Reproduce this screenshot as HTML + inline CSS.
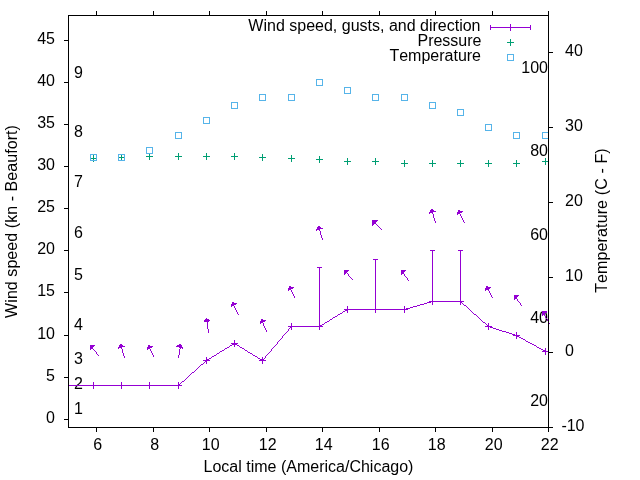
<!DOCTYPE html>
<html><head><meta charset="utf-8"><title>Wind, pressure and temperature</title><style>
html,body{margin:0;padding:0;background:#fff;}
svg{display:block;will-change:transform;}
path{shape-rendering:crispEdges;}
text{font-family:"Liberation Sans", Arial, sans-serif;font-size:16px;fill:#000;font-kerning:none;}
</style></head><body>
<svg width="640" height="480" viewBox="0 0 640 480">
<rect width="640" height="480" fill="#fff"/>
<text x="97.75" y="450" text-anchor="middle">6</text>
<text x="154.75" y="450" text-anchor="middle">8</text>
<text x="210.75" y="450" text-anchor="middle">10</text>
<text x="267.75" y="450" text-anchor="middle">12</text>
<text x="323.75" y="450" text-anchor="middle">14</text>
<text x="380.75" y="450" text-anchor="middle">16</text>
<text x="436.75" y="450" text-anchor="middle">18</text>
<text x="493.75" y="450" text-anchor="middle">20</text>
<text x="549.75" y="450" text-anchor="middle">22</text>
<text x="55" y="423.3" text-anchor="end">0</text>
<text x="55" y="381.3" text-anchor="end">5</text>
<text x="55" y="339.3" text-anchor="end">10</text>
<text x="55" y="296.3" text-anchor="end">15</text>
<text x="55" y="254.3" text-anchor="end">20</text>
<text x="55" y="212.3" text-anchor="end">25</text>
<text x="55" y="170.3" text-anchor="end">30</text>
<text x="55" y="128.3" text-anchor="end">35</text>
<text x="55" y="86.3" text-anchor="end">40</text>
<text x="55" y="44.3" text-anchor="end">45</text>
<text x="561.4" y="431.3">-10</text>
<text x="565" y="356.3">0</text>
<text x="565" y="281.3">10</text>
<text x="565" y="206.3">20</text>
<text x="565" y="131.3">30</text>
<text x="565" y="56.3">40</text>
<text x="74" y="414">1</text>
<text x="74" y="389">2</text>
<text x="74" y="364">3</text>
<text x="74" y="330">4</text>
<text x="74" y="280">5</text>
<text x="74" y="238">6</text>
<text x="74" y="187">7</text>
<text x="74" y="137">8</text>
<text x="74" y="78">9</text>
<text x="548" y="406.3" text-anchor="end">20</text>
<text x="548" y="323.0" text-anchor="end">40</text>
<text x="548" y="239.6" text-anchor="end">60</text>
<text x="548" y="156.3" text-anchor="end">80</text>
<text x="548" y="73.0" text-anchor="end">100</text>
<text x="308.5" y="472" text-anchor="middle">Local time (America/Chicago)</text>
<text transform="translate(17,221.5) rotate(-90)" text-anchor="middle" textLength="192.8" lengthAdjust="spacing">Wind speed (kn - Beaufort)</text>
<text transform="translate(607,220.6) rotate(-90)" text-anchor="middle" textLength="144.5" lengthAdjust="spacing">Temperature (C - F)</text>
<text x="480.5" y="30.8" text-anchor="end">Wind speed, gusts, and direction</text>
<text x="481.5" y="45.8" text-anchor="end">Pressure</text>
<text x="481" y="60.8" text-anchor="end">Temperature</text>
<path fill="#009e73" d="M510 39h1v1h-1zM510 40h1v1h-1zM510 41h1v1h-1zM507 42h7v1h-7zM510 43h1v1h-1zM510 44h1v1h-1zM510 45h1v1h-1zM149 153h1v1h-1zM178 153h1v1h-1zM206 153h1v1h-1zM234 153h1v1h-1zM121 154h1v1h-1zM149 154h1v1h-1zM178 154h1v1h-1zM206 154h1v1h-1zM234 154h1v1h-1zM262 154h1v1h-1zM93 155h1v1h-1zM121 155h1v1h-1zM149 155h1v1h-1zM178 155h1v1h-1zM206 155h1v1h-1zM234 155h1v1h-1zM262 155h1v1h-1zM291 155h1v1h-1zM93 156h1v1h-1zM121 156h1v1h-1zM146 156h7v1h-7zM175 156h7v1h-7zM203 156h7v1h-7zM231 156h7v1h-7zM262 156h1v1h-1zM291 156h1v1h-1zM319 156h1v1h-1zM93 157h1v1h-1zM118 157h7v1h-7zM149 157h1v1h-1zM178 157h1v1h-1zM206 157h1v1h-1zM234 157h1v1h-1zM259 157h7v1h-7zM291 157h1v1h-1zM319 157h1v1h-1zM90 158h7v1h-7zM121 158h1v1h-1zM149 158h1v1h-1zM178 158h1v1h-1zM206 158h1v1h-1zM234 158h1v1h-1zM262 158h1v1h-1zM288 158h7v1h-7zM319 158h1v1h-1zM347 158h1v1h-1zM375 158h1v1h-1zM545 158h1v1h-1zM93 159h1v1h-1zM121 159h1v1h-1zM149 159h1v1h-1zM178 159h1v1h-1zM206 159h1v1h-1zM234 159h1v1h-1zM262 159h1v1h-1zM291 159h1v1h-1zM316 159h7v1h-7zM347 159h1v1h-1zM375 159h1v1h-1zM545 159h1v1h-1zM93 160h1v1h-1zM121 160h1v1h-1zM262 160h1v1h-1zM291 160h1v1h-1zM319 160h1v1h-1zM347 160h1v1h-1zM375 160h1v1h-1zM404 160h1v1h-1zM432 160h1v1h-1zM460 160h1v1h-1zM488 160h1v1h-1zM516 160h1v1h-1zM545 160h1v1h-1zM93 161h1v1h-1zM291 161h1v1h-1zM319 161h1v1h-1zM344 161h7v1h-7zM372 161h7v1h-7zM404 161h1v1h-1zM432 161h1v1h-1zM460 161h1v1h-1zM488 161h1v1h-1zM516 161h1v1h-1zM542 161h7v1h-7zM319 162h1v1h-1zM347 162h1v1h-1zM375 162h1v1h-1zM404 162h1v1h-1zM432 162h1v1h-1zM460 162h1v1h-1zM488 162h1v1h-1zM516 162h1v1h-1zM545 162h1v1h-1zM347 163h1v1h-1zM375 163h1v1h-1zM401 163h7v1h-7zM429 163h7v1h-7zM457 163h7v1h-7zM485 163h7v1h-7zM513 163h7v1h-7zM545 163h1v1h-1zM347 164h1v1h-1zM375 164h1v1h-1zM404 164h1v1h-1zM432 164h1v1h-1zM460 164h1v1h-1zM488 164h1v1h-1zM516 164h1v1h-1zM545 164h1v1h-1zM404 165h1v1h-1zM432 165h1v1h-1zM460 165h1v1h-1zM488 165h1v1h-1zM516 165h1v1h-1zM404 166h1v1h-1zM432 166h1v1h-1zM460 166h1v1h-1zM488 166h1v1h-1zM516 166h1v1h-1z"/>
<path fill="#56b4e9" d="M507 54h7v1h-7zM507 55h1v1h-1zM513 55h1v1h-1zM507 56h1v1h-1zM513 56h1v1h-1zM507 57h1v1h-1zM513 57h1v1h-1zM507 58h1v1h-1zM513 58h1v1h-1zM507 59h1v1h-1zM513 59h1v1h-1zM507 60h7v1h-7zM316 79h7v1h-7zM316 80h1v1h-1zM322 80h1v1h-1zM316 81h1v1h-1zM322 81h1v1h-1zM316 82h1v1h-1zM322 82h1v1h-1zM316 83h1v1h-1zM322 83h1v1h-1zM316 84h1v1h-1zM322 84h1v1h-1zM316 85h7v1h-7zM344 87h7v1h-7zM344 88h1v1h-1zM350 88h1v1h-1zM344 89h1v1h-1zM350 89h1v1h-1zM344 90h1v1h-1zM350 90h1v1h-1zM344 91h1v1h-1zM350 91h1v1h-1zM344 92h1v1h-1zM350 92h1v1h-1zM344 93h7v1h-7zM259 94h7v1h-7zM288 94h7v1h-7zM372 94h7v1h-7zM401 94h7v1h-7zM259 95h1v1h-1zM265 95h1v1h-1zM288 95h1v1h-1zM294 95h1v1h-1zM372 95h1v1h-1zM378 95h1v1h-1zM401 95h1v1h-1zM407 95h1v1h-1zM259 96h1v1h-1zM265 96h1v1h-1zM288 96h1v1h-1zM294 96h1v1h-1zM372 96h1v1h-1zM378 96h1v1h-1zM401 96h1v1h-1zM407 96h1v1h-1zM259 97h1v1h-1zM265 97h1v1h-1zM288 97h1v1h-1zM294 97h1v1h-1zM372 97h1v1h-1zM378 97h1v1h-1zM401 97h1v1h-1zM407 97h1v1h-1zM259 98h1v1h-1zM265 98h1v1h-1zM288 98h1v1h-1zM294 98h1v1h-1zM372 98h1v1h-1zM378 98h1v1h-1zM401 98h1v1h-1zM407 98h1v1h-1zM259 99h1v1h-1zM265 99h1v1h-1zM288 99h1v1h-1zM294 99h1v1h-1zM372 99h1v1h-1zM378 99h1v1h-1zM401 99h1v1h-1zM407 99h1v1h-1zM259 100h7v1h-7zM288 100h7v1h-7zM372 100h7v1h-7zM401 100h7v1h-7zM231 102h7v1h-7zM429 102h7v1h-7zM231 103h1v1h-1zM237 103h1v1h-1zM429 103h1v1h-1zM435 103h1v1h-1zM231 104h1v1h-1zM237 104h1v1h-1zM429 104h1v1h-1zM435 104h1v1h-1zM231 105h1v1h-1zM237 105h1v1h-1zM429 105h1v1h-1zM435 105h1v1h-1zM231 106h1v1h-1zM237 106h1v1h-1zM429 106h1v1h-1zM435 106h1v1h-1zM231 107h1v1h-1zM237 107h1v1h-1zM429 107h1v1h-1zM435 107h1v1h-1zM231 108h7v1h-7zM429 108h7v1h-7zM457 109h7v1h-7zM457 110h1v1h-1zM463 110h1v1h-1zM457 111h1v1h-1zM463 111h1v1h-1zM457 112h1v1h-1zM463 112h1v1h-1zM457 113h1v1h-1zM463 113h1v1h-1zM457 114h1v1h-1zM463 114h1v1h-1zM457 115h7v1h-7zM203 117h7v1h-7zM203 118h1v1h-1zM209 118h1v1h-1zM203 119h1v1h-1zM209 119h1v1h-1zM203 120h1v1h-1zM209 120h1v1h-1zM203 121h1v1h-1zM209 121h1v1h-1zM203 122h1v1h-1zM209 122h1v1h-1zM203 123h7v1h-7zM485 124h7v1h-7zM485 125h1v1h-1zM491 125h1v1h-1zM485 126h1v1h-1zM491 126h1v1h-1zM485 127h1v1h-1zM491 127h1v1h-1zM485 128h1v1h-1zM491 128h1v1h-1zM485 129h1v1h-1zM491 129h1v1h-1zM485 130h7v1h-7zM175 132h7v1h-7zM513 132h7v1h-7zM542 132h7v1h-7zM175 133h1v1h-1zM181 133h1v1h-1zM513 133h1v1h-1zM519 133h1v1h-1zM542 133h1v1h-1zM548 133h1v1h-1zM175 134h1v1h-1zM181 134h1v1h-1zM513 134h1v1h-1zM519 134h1v1h-1zM542 134h1v1h-1zM548 134h1v1h-1zM175 135h1v1h-1zM181 135h1v1h-1zM513 135h1v1h-1zM519 135h1v1h-1zM542 135h1v1h-1zM548 135h1v1h-1zM175 136h1v1h-1zM181 136h1v1h-1zM513 136h1v1h-1zM519 136h1v1h-1zM542 136h1v1h-1zM548 136h1v1h-1zM175 137h1v1h-1zM181 137h1v1h-1zM513 137h1v1h-1zM519 137h1v1h-1zM542 137h1v1h-1zM548 137h1v1h-1zM175 138h7v1h-7zM513 138h7v1h-7zM542 138h7v1h-7zM146 147h7v1h-7zM146 148h1v1h-1zM152 148h1v1h-1zM146 149h1v1h-1zM152 149h1v1h-1zM146 150h1v1h-1zM152 150h1v1h-1zM146 151h1v1h-1zM152 151h1v1h-1zM146 152h1v1h-1zM152 152h1v1h-1zM146 153h7v1h-7zM90 154h7v1h-7zM118 154h7v1h-7zM90 155h1v1h-1zM96 155h1v1h-1zM118 155h1v1h-1zM124 155h1v1h-1zM90 156h1v1h-1zM96 156h1v1h-1zM118 156h1v1h-1zM124 156h1v1h-1zM90 157h1v1h-1zM96 157h1v1h-1zM118 157h1v1h-1zM124 157h1v1h-1zM90 158h1v1h-1zM96 158h1v1h-1zM118 158h1v1h-1zM124 158h1v1h-1zM90 159h1v1h-1zM96 159h1v1h-1zM118 159h1v1h-1zM124 159h1v1h-1zM90 160h7v1h-7zM118 160h7v1h-7z"/>
<path fill="#9400d3" d="M510 24h1v1h-1zM490 25h1v1h-1zM510 25h1v1h-1zM530 25h1v1h-1zM490 26h1v1h-1zM510 26h1v1h-1zM530 26h1v1h-1zM490 27h41v1h-41zM490 28h1v1h-1zM510 28h1v1h-1zM530 28h1v1h-1zM490 29h1v1h-1zM510 29h1v1h-1zM530 29h1v1h-1zM510 30h1v1h-1zM431 209h2v1h-2zM430 210h4v1h-4zM458 210h2v1h-2zM430 211h6v1h-6zM458 211h5v1h-5zM429 212h4v1h-4zM457 212h5v1h-5zM429 213h1v1h-1zM432 213h1v1h-1zM457 213h3v1h-3zM433 214h1v1h-1zM457 214h1v1h-1zM460 214h1v1h-1zM433 215h1v1h-1zM460 215h1v1h-1zM433 216h1v1h-1zM461 216h1v1h-1zM433 217h1v1h-1zM461 217h1v1h-1zM434 218h1v1h-1zM462 218h1v1h-1zM434 219h1v1h-1zM462 219h1v1h-1zM372 220h6v1h-6zM434 220h1v1h-1zM463 220h1v1h-1zM372 221h5v1h-5zM435 221h1v1h-1zM463 221h1v1h-1zM372 222h4v1h-4zM435 222h1v1h-1zM464 222h1v1h-1zM372 223h4v1h-4zM372 224h2v1h-2zM376 224h1v1h-1zM372 225h1v1h-1zM377 225h1v1h-1zM318 226h2v1h-2zM378 226h1v1h-1zM317 227h4v1h-4zM379 227h1v1h-1zM317 228h6v1h-6zM380 228h1v1h-1zM316 229h4v1h-4zM381 229h1v1h-1zM316 230h1v1h-1zM319 230h1v1h-1zM320 231h1v1h-1zM320 232h1v1h-1zM320 233h1v1h-1zM320 234h1v1h-1zM321 235h1v1h-1zM321 236h1v1h-1zM321 237h1v1h-1zM322 238h1v1h-1zM322 239h1v1h-1zM430 250h5v1h-5zM458 250h5v1h-5zM432 251h1v1h-1zM460 251h1v1h-1zM432 252h1v1h-1zM460 252h1v1h-1zM432 253h1v1h-1zM460 253h1v1h-1zM432 254h1v1h-1zM460 254h1v1h-1zM432 255h1v1h-1zM460 255h1v1h-1zM432 256h1v1h-1zM460 256h1v1h-1zM432 257h1v1h-1zM460 257h1v1h-1zM432 258h1v1h-1zM460 258h1v1h-1zM373 259h5v1h-5zM432 259h1v1h-1zM460 259h1v1h-1zM375 260h1v1h-1zM432 260h1v1h-1zM460 260h1v1h-1zM375 261h1v1h-1zM432 261h1v1h-1zM460 261h1v1h-1zM375 262h1v1h-1zM432 262h1v1h-1zM460 262h1v1h-1zM375 263h1v1h-1zM432 263h1v1h-1zM460 263h1v1h-1zM375 264h1v1h-1zM432 264h1v1h-1zM460 264h1v1h-1zM375 265h1v1h-1zM432 265h1v1h-1zM460 265h1v1h-1zM375 266h1v1h-1zM432 266h1v1h-1zM460 266h1v1h-1zM317 267h5v1h-5zM375 267h1v1h-1zM432 267h1v1h-1zM460 267h1v1h-1zM319 268h1v1h-1zM375 268h1v1h-1zM432 268h1v1h-1zM460 268h1v1h-1zM319 269h1v1h-1zM375 269h1v1h-1zM432 269h1v1h-1zM460 269h1v1h-1zM319 270h1v1h-1zM344 270h5v1h-5zM375 270h1v1h-1zM401 270h5v1h-5zM432 270h1v1h-1zM460 270h1v1h-1zM319 271h1v1h-1zM344 271h4v1h-4zM375 271h1v1h-1zM401 271h4v1h-4zM432 271h1v1h-1zM460 271h1v1h-1zM319 272h1v1h-1zM344 272h3v1h-3zM375 272h1v1h-1zM401 272h3v1h-3zM432 272h1v1h-1zM460 272h1v1h-1zM319 273h1v1h-1zM344 273h2v1h-2zM347 273h1v1h-1zM375 273h1v1h-1zM401 273h3v1h-3zM432 273h1v1h-1zM460 273h1v1h-1zM319 274h1v1h-1zM344 274h1v1h-1zM348 274h1v1h-1zM375 274h1v1h-1zM401 274h1v1h-1zM404 274h1v1h-1zM432 274h1v1h-1zM460 274h1v1h-1zM319 275h1v1h-1zM348 275h1v1h-1zM375 275h1v1h-1zM404 275h1v1h-1zM432 275h1v1h-1zM460 275h1v1h-1zM319 276h1v1h-1zM349 276h1v1h-1zM375 276h1v1h-1zM405 276h1v1h-1zM432 276h1v1h-1zM460 276h1v1h-1zM319 277h1v1h-1zM350 277h1v1h-1zM375 277h1v1h-1zM406 277h1v1h-1zM432 277h1v1h-1zM460 277h1v1h-1zM319 278h1v1h-1zM351 278h1v1h-1zM375 278h1v1h-1zM407 278h1v1h-1zM432 278h1v1h-1zM460 278h1v1h-1zM319 279h1v1h-1zM352 279h1v1h-1zM375 279h1v1h-1zM407 279h1v1h-1zM432 279h1v1h-1zM460 279h1v1h-1zM319 280h1v1h-1zM375 280h1v1h-1zM408 280h1v1h-1zM432 280h1v1h-1zM460 280h1v1h-1zM319 281h1v1h-1zM375 281h1v1h-1zM432 281h1v1h-1zM460 281h1v1h-1zM319 282h1v1h-1zM375 282h1v1h-1zM432 282h1v1h-1zM460 282h1v1h-1zM319 283h1v1h-1zM375 283h1v1h-1zM432 283h1v1h-1zM460 283h1v1h-1zM319 284h1v1h-1zM375 284h1v1h-1zM432 284h1v1h-1zM460 284h1v1h-1zM319 285h1v1h-1zM375 285h1v1h-1zM432 285h1v1h-1zM460 285h1v1h-1zM289 286h2v1h-2zM319 286h1v1h-1zM375 286h1v1h-1zM432 286h1v1h-1zM460 286h1v1h-1zM486 286h2v1h-2zM289 287h5v1h-5zM319 287h1v1h-1zM375 287h1v1h-1zM432 287h1v1h-1zM460 287h1v1h-1zM486 287h5v1h-5zM288 288h5v1h-5zM319 288h1v1h-1zM375 288h1v1h-1zM432 288h1v1h-1zM460 288h1v1h-1zM485 288h5v1h-5zM288 289h3v1h-3zM319 289h1v1h-1zM375 289h1v1h-1zM432 289h1v1h-1zM460 289h1v1h-1zM485 289h4v1h-4zM288 290h1v1h-1zM291 290h1v1h-1zM319 290h1v1h-1zM375 290h1v1h-1zM432 290h1v1h-1zM460 290h1v1h-1zM485 290h1v1h-1zM488 290h1v1h-1zM291 291h1v1h-1zM319 291h1v1h-1zM375 291h1v1h-1zM432 291h1v1h-1zM460 291h1v1h-1zM489 291h1v1h-1zM292 292h1v1h-1zM319 292h1v1h-1zM375 292h1v1h-1zM432 292h1v1h-1zM460 292h1v1h-1zM489 292h1v1h-1zM292 293h1v1h-1zM319 293h1v1h-1zM375 293h1v1h-1zM432 293h1v1h-1zM460 293h1v1h-1zM490 293h1v1h-1zM293 294h1v1h-1zM319 294h1v1h-1zM375 294h1v1h-1zM432 294h1v1h-1zM460 294h1v1h-1zM490 294h1v1h-1zM293 295h1v1h-1zM319 295h1v1h-1zM375 295h1v1h-1zM432 295h1v1h-1zM460 295h1v1h-1zM491 295h1v1h-1zM514 295h5v1h-5zM294 296h1v1h-1zM319 296h1v1h-1zM375 296h1v1h-1zM432 296h1v1h-1zM460 296h1v1h-1zM491 296h1v1h-1zM514 296h4v1h-4zM294 297h1v1h-1zM319 297h1v1h-1zM375 297h1v1h-1zM432 297h1v1h-1zM460 297h1v1h-1zM492 297h1v1h-1zM514 297h3v1h-3zM319 298h1v1h-1zM375 298h1v1h-1zM432 298h1v1h-1zM460 298h1v1h-1zM514 298h3v1h-3zM319 299h1v1h-1zM375 299h1v1h-1zM432 299h1v1h-1zM460 299h1v1h-1zM514 299h1v1h-1zM517 299h1v1h-1zM319 300h1v1h-1zM375 300h1v1h-1zM432 300h1v1h-1zM460 300h1v1h-1zM517 300h1v1h-1zM319 301h1v1h-1zM375 301h1v1h-1zM429 301h35v1h-35zM518 301h1v1h-1zM232 302h2v1h-2zM319 302h1v1h-1zM375 302h1v1h-1zM427 302h4v1h-4zM432 302h1v1h-1zM460 302h2v1h-2zM519 302h1v1h-1zM232 303h5v1h-5zM319 303h1v1h-1zM375 303h1v1h-1zM424 303h3v1h-3zM432 303h1v1h-1zM460 303h1v1h-1zM462 303h1v1h-1zM520 303h1v1h-1zM231 304h5v1h-5zM319 304h1v1h-1zM375 304h1v1h-1zM420 304h4v1h-4zM432 304h1v1h-1zM460 304h1v1h-1zM463 304h1v1h-1zM520 304h1v1h-1zM231 305h3v1h-3zM319 305h1v1h-1zM375 305h1v1h-1zM417 305h3v1h-3zM464 305h2v1h-2zM521 305h1v1h-1zM231 306h1v1h-1zM234 306h1v1h-1zM319 306h1v1h-1zM347 306h1v1h-1zM375 306h1v1h-1zM404 306h1v1h-1zM413 306h4v1h-4zM466 306h1v1h-1zM234 307h1v1h-1zM319 307h1v1h-1zM347 307h1v1h-1zM375 307h1v1h-1zM404 307h1v1h-1zM410 307h3v1h-3zM467 307h1v1h-1zM235 308h1v1h-1zM319 308h1v1h-1zM347 308h1v1h-1zM375 308h1v1h-1zM404 308h1v1h-1zM406 308h4v1h-4zM468 308h1v1h-1zM235 309h1v1h-1zM319 309h1v1h-1zM344 309h64v1h-64zM469 309h1v1h-1zM236 310h1v1h-1zM319 310h1v1h-1zM345 310h3v1h-3zM375 310h1v1h-1zM404 310h1v1h-1zM470 310h1v1h-1zM236 311h1v1h-1zM319 311h1v1h-1zM343 311h2v1h-2zM347 311h1v1h-1zM375 311h1v1h-1zM404 311h1v1h-1zM471 311h1v1h-1zM542 311h5v1h-5zM237 312h1v1h-1zM319 312h1v1h-1zM342 312h1v1h-1zM347 312h1v1h-1zM375 312h1v1h-1zM404 312h1v1h-1zM472 312h1v1h-1zM542 312h5v1h-5zM237 313h1v1h-1zM319 313h1v1h-1zM340 313h2v1h-2zM473 313h1v1h-1zM542 313h3v1h-3zM238 314h1v1h-1zM319 314h1v1h-1zM338 314h2v1h-2zM474 314h2v1h-2zM542 314h3v1h-3zM319 315h1v1h-1zM337 315h1v1h-1zM476 315h1v1h-1zM542 315h1v1h-1zM544 315h1v1h-1zM319 316h1v1h-1zM335 316h2v1h-2zM477 316h1v1h-1zM545 316h1v1h-1zM319 317h1v1h-1zM333 317h2v1h-2zM478 317h1v1h-1zM545 317h1v1h-1zM206 318h1v1h-1zM319 318h1v1h-1zM332 318h1v1h-1zM479 318h1v1h-1zM546 318h1v1h-1zM205 319h4v1h-4zM261 319h2v1h-2zM319 319h1v1h-1zM330 319h2v1h-2zM480 319h1v1h-1zM547 319h1v1h-1zM204 320h6v1h-6zM261 320h5v1h-5zM319 320h1v1h-1zM329 320h1v1h-1zM481 320h1v1h-1zM547 320h1v1h-1zM204 321h5v1h-5zM260 321h5v1h-5zM319 321h1v1h-1zM327 321h2v1h-2zM482 321h1v1h-1zM548 321h1v1h-1zM207 322h1v1h-1zM260 322h3v1h-3zM319 322h1v1h-1zM325 322h2v1h-2zM483 322h2v1h-2zM548 322h1v1h-1zM207 323h1v1h-1zM260 323h1v1h-1zM263 323h1v1h-1zM291 323h1v1h-1zM319 323h1v1h-1zM324 323h1v1h-1zM485 323h1v1h-1zM488 323h1v1h-1zM549 323h1v1h-1zM207 324h1v1h-1zM263 324h1v1h-1zM291 324h1v1h-1zM319 324h1v1h-1zM322 324h2v1h-2zM486 324h1v1h-1zM488 324h1v1h-1zM207 325h1v1h-1zM263 325h1v1h-1zM291 325h1v1h-1zM319 325h3v1h-3zM487 325h2v1h-2zM207 326h1v1h-1zM264 326h1v1h-1zM288 326h35v1h-35zM485 326h7v1h-7zM207 327h1v1h-1zM264 327h1v1h-1zM290 327h2v1h-2zM319 327h1v1h-1zM488 327h1v1h-1zM490 327h3v1h-3zM207 328h1v1h-1zM265 328h1v1h-1zM289 328h1v1h-1zM291 328h1v1h-1zM319 328h1v1h-1zM488 328h1v1h-1zM493 328h3v1h-3zM208 329h1v1h-1zM265 329h1v1h-1zM288 329h1v1h-1zM291 329h1v1h-1zM319 329h1v1h-1zM488 329h1v1h-1zM496 329h3v1h-3zM208 330h1v1h-1zM266 330h1v1h-1zM288 330h1v1h-1zM499 330h3v1h-3zM208 331h1v1h-1zM266 331h1v1h-1zM287 331h1v1h-1zM502 331h4v1h-4zM208 332h1v1h-1zM286 332h1v1h-1zM506 332h3v1h-3zM516 332h1v1h-1zM285 333h1v1h-1zM509 333h3v1h-3zM516 333h1v1h-1zM284 334h1v1h-1zM512 334h3v1h-3zM516 334h1v1h-1zM283 335h1v1h-1zM513 335h7v1h-7zM282 336h1v1h-1zM516 336h3v1h-3zM282 337h1v1h-1zM516 337h1v1h-1zM519 337h2v1h-2zM281 338h1v1h-1zM516 338h1v1h-1zM521 338h2v1h-2zM280 339h1v1h-1zM523 339h2v1h-2zM234 340h1v1h-1zM279 340h1v1h-1zM525 340h1v1h-1zM234 341h1v1h-1zM278 341h1v1h-1zM526 341h2v1h-2zM234 342h1v1h-1zM277 342h1v1h-1zM528 342h2v1h-2zM231 343h7v1h-7zM277 343h1v1h-1zM530 343h2v1h-2zM120 344h2v1h-2zM179 344h2v1h-2zM232 344h5v1h-5zM276 344h1v1h-1zM532 344h2v1h-2zM90 345h5v1h-5zM119 345h4v1h-4zM148 345h2v1h-2zM177 345h5v1h-5zM230 345h2v1h-2zM234 345h1v1h-1zM237 345h2v1h-2zM275 345h1v1h-1zM534 345h2v1h-2zM90 346h4v1h-4zM119 346h6v1h-6zM148 346h5v1h-5zM176 346h6v1h-6zM229 346h1v1h-1zM234 346h1v1h-1zM239 346h1v1h-1zM274 346h1v1h-1zM536 346h1v1h-1zM90 347h3v1h-3zM118 347h4v1h-4zM147 347h5v1h-5zM179 347h4v1h-4zM227 347h2v1h-2zM240 347h2v1h-2zM273 347h1v1h-1zM537 347h2v1h-2zM90 348h3v1h-3zM118 348h1v1h-1zM121 348h1v1h-1zM147 348h3v1h-3zM180 348h1v1h-1zM182 348h1v1h-1zM225 348h2v1h-2zM242 348h2v1h-2zM272 348h1v1h-1zM539 348h2v1h-2zM545 348h1v1h-1zM90 349h1v1h-1zM93 349h1v1h-1zM122 349h1v1h-1zM147 349h1v1h-1zM150 349h1v1h-1zM179 349h1v1h-1zM224 349h1v1h-1zM244 349h1v1h-1zM271 349h1v1h-1zM541 349h2v1h-2zM545 349h1v1h-1zM94 350h1v1h-1zM122 350h1v1h-1zM150 350h1v1h-1zM179 350h1v1h-1zM222 350h2v1h-2zM245 350h2v1h-2zM271 350h1v1h-1zM543 350h3v1h-3zM95 351h1v1h-1zM122 351h1v1h-1zM151 351h1v1h-1zM179 351h1v1h-1zM220 351h2v1h-2zM247 351h1v1h-1zM270 351h1v1h-1zM542 351h7v1h-7zM96 352h1v1h-1zM122 352h1v1h-1zM151 352h1v1h-1zM179 352h1v1h-1zM219 352h1v1h-1zM248 352h2v1h-2zM269 352h1v1h-1zM545 352h1v1h-1zM96 353h1v1h-1zM123 353h1v1h-1zM152 353h1v1h-1zM179 353h1v1h-1zM217 353h2v1h-2zM250 353h2v1h-2zM268 353h1v1h-1zM545 353h1v1h-1zM97 354h1v1h-1zM123 354h1v1h-1zM152 354h1v1h-1zM179 354h1v1h-1zM216 354h1v1h-1zM252 354h1v1h-1zM267 354h1v1h-1zM545 354h1v1h-1zM98 355h1v1h-1zM123 355h1v1h-1zM153 355h1v1h-1zM178 355h1v1h-1zM214 355h2v1h-2zM253 355h2v1h-2zM266 355h1v1h-1zM124 356h1v1h-1zM153 356h1v1h-1zM178 356h1v1h-1zM212 356h2v1h-2zM255 356h2v1h-2zM265 356h1v1h-1zM124 357h1v1h-1zM178 357h1v1h-1zM206 357h1v1h-1zM211 357h1v1h-1zM257 357h1v1h-1zM262 357h1v1h-1zM265 357h1v1h-1zM206 358h1v1h-1zM209 358h2v1h-2zM258 358h2v1h-2zM262 358h1v1h-1zM264 358h1v1h-1zM206 359h3v1h-3zM260 359h4v1h-4zM203 360h7v1h-7zM259 360h7v1h-7zM205 361h2v1h-2zM262 361h1v1h-1zM204 362h1v1h-1zM206 362h1v1h-1zM262 362h1v1h-1zM203 363h1v1h-1zM206 363h1v1h-1zM262 363h1v1h-1zM201 364h2v1h-2zM200 365h1v1h-1zM199 366h1v1h-1zM198 367h1v1h-1zM197 368h1v1h-1zM196 369h1v1h-1zM195 370h1v1h-1zM194 371h1v1h-1zM192 372h2v1h-2zM191 373h1v1h-1zM190 374h1v1h-1zM189 375h1v1h-1zM188 376h1v1h-1zM187 377h1v1h-1zM186 378h1v1h-1zM185 379h1v1h-1zM184 380h1v1h-1zM182 381h2v1h-2zM93 382h1v1h-1zM121 382h1v1h-1zM149 382h1v1h-1zM178 382h1v1h-1zM181 382h1v1h-1zM93 383h1v1h-1zM121 383h1v1h-1zM149 383h1v1h-1zM178 383h1v1h-1zM180 383h1v1h-1zM93 384h1v1h-1zM121 384h1v1h-1zM149 384h1v1h-1zM178 384h2v1h-2zM69 385h113v1h-113zM93 386h1v1h-1zM121 386h1v1h-1zM149 386h1v1h-1zM178 386h1v1h-1zM93 387h1v1h-1zM121 387h1v1h-1zM149 387h1v1h-1zM178 387h1v1h-1zM93 388h1v1h-1zM121 388h1v1h-1zM149 388h1v1h-1zM178 388h1v1h-1z"/>
<path fill="#000" d="M96 11h1v1h-1zM153 11h1v1h-1zM209 11h1v1h-1zM266 11h1v1h-1zM322 11h1v1h-1zM379 11h1v1h-1zM435 11h1v1h-1zM492 11h1v1h-1zM548 11h1v1h-1zM96 12h1v1h-1zM153 12h1v1h-1zM209 12h1v1h-1zM266 12h1v1h-1zM322 12h1v1h-1zM379 12h1v1h-1zM435 12h1v1h-1zM492 12h1v1h-1zM548 12h1v1h-1zM96 13h1v1h-1zM153 13h1v1h-1zM209 13h1v1h-1zM266 13h1v1h-1zM322 13h1v1h-1zM379 13h1v1h-1zM435 13h1v1h-1zM492 13h1v1h-1zM548 13h1v1h-1zM96 14h1v1h-1zM153 14h1v1h-1zM209 14h1v1h-1zM266 14h1v1h-1zM322 14h1v1h-1zM379 14h1v1h-1zM435 14h1v1h-1zM492 14h1v1h-1zM548 14h1v1h-1zM68 15h481v1h-481zM68 16h1v1h-1zM548 16h1v1h-1zM68 17h1v1h-1zM548 17h1v1h-1zM68 18h1v1h-1zM548 18h1v1h-1zM68 19h1v1h-1zM548 19h1v1h-1zM68 20h1v1h-1zM548 20h1v1h-1zM68 21h1v1h-1zM548 21h1v1h-1zM68 22h1v1h-1zM548 22h1v1h-1zM68 23h1v1h-1zM548 23h1v1h-1zM68 24h1v1h-1zM548 24h1v1h-1zM68 25h1v1h-1zM548 25h1v1h-1zM68 26h1v1h-1zM548 26h1v1h-1zM68 27h1v1h-1zM548 27h1v1h-1zM68 28h1v1h-1zM548 28h1v1h-1zM68 29h1v1h-1zM548 29h1v1h-1zM68 30h1v1h-1zM548 30h1v1h-1zM68 31h1v1h-1zM548 31h1v1h-1zM68 32h1v1h-1zM548 32h1v1h-1zM68 33h1v1h-1zM548 33h1v1h-1zM68 34h1v1h-1zM548 34h1v1h-1zM68 35h1v1h-1zM548 35h1v1h-1zM68 36h1v1h-1zM548 36h1v1h-1zM68 37h1v1h-1zM548 37h1v1h-1zM68 38h1v1h-1zM548 38h1v1h-1zM68 39h1v1h-1zM548 39h1v1h-1zM64 40h5v1h-5zM548 40h1v1h-1zM68 41h1v1h-1zM548 41h1v1h-1zM68 42h1v1h-1zM548 42h1v1h-1zM68 43h1v1h-1zM548 43h1v1h-1zM68 44h1v1h-1zM548 44h1v1h-1zM68 45h1v1h-1zM548 45h1v1h-1zM68 46h1v1h-1zM548 46h1v1h-1zM68 47h1v1h-1zM548 47h1v1h-1zM68 48h1v1h-1zM548 48h1v1h-1zM68 49h1v1h-1zM548 49h1v1h-1zM68 50h1v1h-1zM548 50h1v1h-1zM68 51h1v1h-1zM548 51h1v1h-1zM68 52h1v1h-1zM548 52h5v1h-5zM68 53h1v1h-1zM548 53h1v1h-1zM68 54h1v1h-1zM548 54h1v1h-1zM68 55h1v1h-1zM548 55h1v1h-1zM68 56h1v1h-1zM548 56h1v1h-1zM68 57h1v1h-1zM548 57h1v1h-1zM68 58h1v1h-1zM548 58h1v1h-1zM68 59h1v1h-1zM548 59h1v1h-1zM68 60h1v1h-1zM548 60h1v1h-1zM68 61h1v1h-1zM548 61h1v1h-1zM68 62h1v1h-1zM548 62h1v1h-1zM68 63h1v1h-1zM548 63h1v1h-1zM68 64h1v1h-1zM548 64h1v1h-1zM68 65h1v1h-1zM548 65h1v1h-1zM68 66h1v1h-1zM548 66h1v1h-1zM68 67h1v1h-1zM548 67h1v1h-1zM68 68h1v1h-1zM548 68h1v1h-1zM68 69h1v1h-1zM548 69h1v1h-1zM68 70h1v1h-1zM548 70h1v1h-1zM68 71h1v1h-1zM548 71h1v1h-1zM68 72h1v1h-1zM548 72h1v1h-1zM68 73h1v1h-1zM548 73h1v1h-1zM68 74h1v1h-1zM548 74h1v1h-1zM68 75h1v1h-1zM548 75h1v1h-1zM68 76h1v1h-1zM548 76h1v1h-1zM68 77h1v1h-1zM548 77h1v1h-1zM68 78h1v1h-1zM548 78h1v1h-1zM68 79h1v1h-1zM548 79h1v1h-1zM68 80h1v1h-1zM548 80h1v1h-1zM68 81h1v1h-1zM548 81h1v1h-1zM64 82h5v1h-5zM548 82h1v1h-1zM68 83h1v1h-1zM548 83h1v1h-1zM68 84h1v1h-1zM548 84h1v1h-1zM68 85h1v1h-1zM548 85h1v1h-1zM68 86h1v1h-1zM548 86h1v1h-1zM68 87h1v1h-1zM548 87h1v1h-1zM68 88h1v1h-1zM548 88h1v1h-1zM68 89h1v1h-1zM548 89h1v1h-1zM68 90h1v1h-1zM548 90h1v1h-1zM68 91h1v1h-1zM548 91h1v1h-1zM68 92h1v1h-1zM548 92h1v1h-1zM68 93h1v1h-1zM548 93h1v1h-1zM68 94h1v1h-1zM548 94h1v1h-1zM68 95h1v1h-1zM548 95h1v1h-1zM68 96h1v1h-1zM548 96h1v1h-1zM68 97h1v1h-1zM548 97h1v1h-1zM68 98h1v1h-1zM548 98h1v1h-1zM68 99h1v1h-1zM548 99h1v1h-1zM68 100h1v1h-1zM548 100h1v1h-1zM68 101h1v1h-1zM548 101h1v1h-1zM68 102h1v1h-1zM548 102h1v1h-1zM68 103h1v1h-1zM548 103h1v1h-1zM68 104h1v1h-1zM548 104h1v1h-1zM68 105h1v1h-1zM548 105h1v1h-1zM68 106h1v1h-1zM548 106h1v1h-1zM68 107h1v1h-1zM548 107h1v1h-1zM68 108h1v1h-1zM548 108h1v1h-1zM68 109h1v1h-1zM548 109h1v1h-1zM68 110h1v1h-1zM548 110h1v1h-1zM68 111h1v1h-1zM548 111h1v1h-1zM68 112h1v1h-1zM548 112h1v1h-1zM68 113h1v1h-1zM548 113h1v1h-1zM68 114h1v1h-1zM548 114h1v1h-1zM68 115h1v1h-1zM548 115h1v1h-1zM68 116h1v1h-1zM548 116h1v1h-1zM68 117h1v1h-1zM548 117h1v1h-1zM68 118h1v1h-1zM548 118h1v1h-1zM68 119h1v1h-1zM548 119h1v1h-1zM68 120h1v1h-1zM548 120h1v1h-1zM68 121h1v1h-1zM548 121h1v1h-1zM68 122h1v1h-1zM548 122h1v1h-1zM68 123h1v1h-1zM548 123h1v1h-1zM64 124h5v1h-5zM548 124h1v1h-1zM68 125h1v1h-1zM548 125h1v1h-1zM68 126h1v1h-1zM548 126h1v1h-1zM68 127h1v1h-1zM548 127h5v1h-5zM68 128h1v1h-1zM548 128h1v1h-1zM68 129h1v1h-1zM548 129h1v1h-1zM68 130h1v1h-1zM548 130h1v1h-1zM68 131h1v1h-1zM548 131h1v1h-1zM68 132h1v1h-1zM548 132h1v1h-1zM68 133h1v1h-1zM548 133h1v1h-1zM68 134h1v1h-1zM548 134h1v1h-1zM68 135h1v1h-1zM548 135h1v1h-1zM68 136h1v1h-1zM548 136h1v1h-1zM68 137h1v1h-1zM548 137h1v1h-1zM68 138h1v1h-1zM548 138h1v1h-1zM68 139h1v1h-1zM548 139h1v1h-1zM68 140h1v1h-1zM548 140h1v1h-1zM68 141h1v1h-1zM548 141h1v1h-1zM68 142h1v1h-1zM548 142h1v1h-1zM68 143h1v1h-1zM548 143h1v1h-1zM68 144h1v1h-1zM548 144h1v1h-1zM68 145h1v1h-1zM548 145h1v1h-1zM68 146h1v1h-1zM548 146h1v1h-1zM68 147h1v1h-1zM548 147h1v1h-1zM68 148h1v1h-1zM548 148h1v1h-1zM68 149h1v1h-1zM548 149h1v1h-1zM68 150h1v1h-1zM548 150h1v1h-1zM68 151h1v1h-1zM548 151h1v1h-1zM68 152h1v1h-1zM548 152h1v1h-1zM68 153h1v1h-1zM548 153h1v1h-1zM68 154h1v1h-1zM548 154h1v1h-1zM68 155h1v1h-1zM548 155h1v1h-1zM68 156h1v1h-1zM548 156h1v1h-1zM68 157h1v1h-1zM548 157h1v1h-1zM68 158h1v1h-1zM548 158h1v1h-1zM68 159h1v1h-1zM548 159h1v1h-1zM68 160h1v1h-1zM548 160h1v1h-1zM68 161h1v1h-1zM548 161h1v1h-1zM68 162h1v1h-1zM548 162h1v1h-1zM68 163h1v1h-1zM548 163h1v1h-1zM68 164h1v1h-1zM548 164h1v1h-1zM68 165h1v1h-1zM548 165h1v1h-1zM64 166h5v1h-5zM548 166h1v1h-1zM68 167h1v1h-1zM548 167h1v1h-1zM68 168h1v1h-1zM548 168h1v1h-1zM68 169h1v1h-1zM548 169h1v1h-1zM68 170h1v1h-1zM548 170h1v1h-1zM68 171h1v1h-1zM548 171h1v1h-1zM68 172h1v1h-1zM548 172h1v1h-1zM68 173h1v1h-1zM548 173h1v1h-1zM68 174h1v1h-1zM548 174h1v1h-1zM68 175h1v1h-1zM548 175h1v1h-1zM68 176h1v1h-1zM548 176h1v1h-1zM68 177h1v1h-1zM548 177h1v1h-1zM68 178h1v1h-1zM548 178h1v1h-1zM68 179h1v1h-1zM548 179h1v1h-1zM68 180h1v1h-1zM548 180h1v1h-1zM68 181h1v1h-1zM548 181h1v1h-1zM68 182h1v1h-1zM548 182h1v1h-1zM68 183h1v1h-1zM548 183h1v1h-1zM68 184h1v1h-1zM548 184h1v1h-1zM68 185h1v1h-1zM548 185h1v1h-1zM68 186h1v1h-1zM548 186h1v1h-1zM68 187h1v1h-1zM548 187h1v1h-1zM68 188h1v1h-1zM548 188h1v1h-1zM68 189h1v1h-1zM548 189h1v1h-1zM68 190h1v1h-1zM548 190h1v1h-1zM68 191h1v1h-1zM548 191h1v1h-1zM68 192h1v1h-1zM548 192h1v1h-1zM68 193h1v1h-1zM548 193h1v1h-1zM68 194h1v1h-1zM548 194h1v1h-1zM68 195h1v1h-1zM548 195h1v1h-1zM68 196h1v1h-1zM548 196h1v1h-1zM68 197h1v1h-1zM548 197h1v1h-1zM68 198h1v1h-1zM548 198h1v1h-1zM68 199h1v1h-1zM548 199h1v1h-1zM68 200h1v1h-1zM548 200h1v1h-1zM68 201h1v1h-1zM548 201h1v1h-1zM68 202h1v1h-1zM548 202h5v1h-5zM68 203h1v1h-1zM548 203h1v1h-1zM68 204h1v1h-1zM548 204h1v1h-1zM68 205h1v1h-1zM548 205h1v1h-1zM68 206h1v1h-1zM548 206h1v1h-1zM68 207h1v1h-1zM548 207h1v1h-1zM64 208h5v1h-5zM548 208h1v1h-1zM68 209h1v1h-1zM548 209h1v1h-1zM68 210h1v1h-1zM548 210h1v1h-1zM68 211h1v1h-1zM548 211h1v1h-1zM68 212h1v1h-1zM548 212h1v1h-1zM68 213h1v1h-1zM548 213h1v1h-1zM68 214h1v1h-1zM548 214h1v1h-1zM68 215h1v1h-1zM548 215h1v1h-1zM68 216h1v1h-1zM548 216h1v1h-1zM68 217h1v1h-1zM548 217h1v1h-1zM68 218h1v1h-1zM548 218h1v1h-1zM68 219h1v1h-1zM548 219h1v1h-1zM68 220h1v1h-1zM548 220h1v1h-1zM68 221h1v1h-1zM548 221h1v1h-1zM68 222h1v1h-1zM548 222h1v1h-1zM68 223h1v1h-1zM548 223h1v1h-1zM68 224h1v1h-1zM548 224h1v1h-1zM68 225h1v1h-1zM548 225h1v1h-1zM68 226h1v1h-1zM548 226h1v1h-1zM68 227h1v1h-1zM548 227h1v1h-1zM68 228h1v1h-1zM548 228h1v1h-1zM68 229h1v1h-1zM548 229h1v1h-1zM68 230h1v1h-1zM548 230h1v1h-1zM68 231h1v1h-1zM548 231h1v1h-1zM68 232h1v1h-1zM548 232h1v1h-1zM68 233h1v1h-1zM548 233h1v1h-1zM68 234h1v1h-1zM548 234h1v1h-1zM68 235h1v1h-1zM548 235h1v1h-1zM68 236h1v1h-1zM548 236h1v1h-1zM68 237h1v1h-1zM548 237h1v1h-1zM68 238h1v1h-1zM548 238h1v1h-1zM68 239h1v1h-1zM548 239h1v1h-1zM68 240h1v1h-1zM548 240h1v1h-1zM68 241h1v1h-1zM548 241h1v1h-1zM68 242h1v1h-1zM548 242h1v1h-1zM68 243h1v1h-1zM548 243h1v1h-1zM68 244h1v1h-1zM548 244h1v1h-1zM68 245h1v1h-1zM548 245h1v1h-1zM68 246h1v1h-1zM548 246h1v1h-1zM68 247h1v1h-1zM548 247h1v1h-1zM68 248h1v1h-1zM548 248h1v1h-1zM68 249h1v1h-1zM548 249h1v1h-1zM64 250h5v1h-5zM548 250h1v1h-1zM68 251h1v1h-1zM548 251h1v1h-1zM68 252h1v1h-1zM548 252h1v1h-1zM68 253h1v1h-1zM548 253h1v1h-1zM68 254h1v1h-1zM548 254h1v1h-1zM68 255h1v1h-1zM548 255h1v1h-1zM68 256h1v1h-1zM548 256h1v1h-1zM68 257h1v1h-1zM548 257h1v1h-1zM68 258h1v1h-1zM548 258h1v1h-1zM68 259h1v1h-1zM548 259h1v1h-1zM68 260h1v1h-1zM548 260h1v1h-1zM68 261h1v1h-1zM548 261h1v1h-1zM68 262h1v1h-1zM548 262h1v1h-1zM68 263h1v1h-1zM548 263h1v1h-1zM68 264h1v1h-1zM548 264h1v1h-1zM68 265h1v1h-1zM548 265h1v1h-1zM68 266h1v1h-1zM548 266h1v1h-1zM68 267h1v1h-1zM548 267h1v1h-1zM68 268h1v1h-1zM548 268h1v1h-1zM68 269h1v1h-1zM548 269h1v1h-1zM68 270h1v1h-1zM548 270h1v1h-1zM68 271h1v1h-1zM548 271h1v1h-1zM68 272h1v1h-1zM548 272h1v1h-1zM68 273h1v1h-1zM548 273h1v1h-1zM68 274h1v1h-1zM548 274h1v1h-1zM68 275h1v1h-1zM548 275h1v1h-1zM68 276h1v1h-1zM548 276h1v1h-1zM68 277h1v1h-1zM548 277h5v1h-5zM68 278h1v1h-1zM548 278h1v1h-1zM68 279h1v1h-1zM548 279h1v1h-1zM68 280h1v1h-1zM548 280h1v1h-1zM68 281h1v1h-1zM548 281h1v1h-1zM68 282h1v1h-1zM548 282h1v1h-1zM68 283h1v1h-1zM548 283h1v1h-1zM68 284h1v1h-1zM548 284h1v1h-1zM68 285h1v1h-1zM548 285h1v1h-1zM68 286h1v1h-1zM548 286h1v1h-1zM68 287h1v1h-1zM548 287h1v1h-1zM68 288h1v1h-1zM548 288h1v1h-1zM68 289h1v1h-1zM548 289h1v1h-1zM68 290h1v1h-1zM548 290h1v1h-1zM68 291h1v1h-1zM548 291h1v1h-1zM64 292h5v1h-5zM548 292h1v1h-1zM68 293h1v1h-1zM548 293h1v1h-1zM68 294h1v1h-1zM548 294h1v1h-1zM68 295h1v1h-1zM548 295h1v1h-1zM68 296h1v1h-1zM548 296h1v1h-1zM68 297h1v1h-1zM548 297h1v1h-1zM68 298h1v1h-1zM548 298h1v1h-1zM68 299h1v1h-1zM548 299h1v1h-1zM68 300h1v1h-1zM548 300h1v1h-1zM68 301h1v1h-1zM548 301h1v1h-1zM68 302h1v1h-1zM548 302h1v1h-1zM68 303h1v1h-1zM548 303h1v1h-1zM68 304h1v1h-1zM548 304h1v1h-1zM68 305h1v1h-1zM548 305h1v1h-1zM68 306h1v1h-1zM548 306h1v1h-1zM68 307h1v1h-1zM548 307h1v1h-1zM68 308h1v1h-1zM548 308h1v1h-1zM68 309h1v1h-1zM548 309h1v1h-1zM68 310h1v1h-1zM548 310h1v1h-1zM68 311h1v1h-1zM548 311h1v1h-1zM68 312h1v1h-1zM548 312h1v1h-1zM68 313h1v1h-1zM548 313h1v1h-1zM68 314h1v1h-1zM548 314h1v1h-1zM68 315h1v1h-1zM548 315h1v1h-1zM68 316h1v1h-1zM548 316h1v1h-1zM68 317h1v1h-1zM548 317h1v1h-1zM68 318h1v1h-1zM548 318h1v1h-1zM68 319h1v1h-1zM548 319h1v1h-1zM68 320h1v1h-1zM548 320h1v1h-1zM68 321h1v1h-1zM548 321h1v1h-1zM68 322h1v1h-1zM548 322h1v1h-1zM68 323h1v1h-1zM548 323h1v1h-1zM68 324h1v1h-1zM548 324h1v1h-1zM68 325h1v1h-1zM548 325h1v1h-1zM68 326h1v1h-1zM548 326h1v1h-1zM68 327h1v1h-1zM548 327h1v1h-1zM68 328h1v1h-1zM548 328h1v1h-1zM68 329h1v1h-1zM548 329h1v1h-1zM68 330h1v1h-1zM548 330h1v1h-1zM68 331h1v1h-1zM548 331h1v1h-1zM68 332h1v1h-1zM548 332h1v1h-1zM68 333h1v1h-1zM548 333h1v1h-1zM68 334h1v1h-1zM548 334h1v1h-1zM64 335h5v1h-5zM548 335h1v1h-1zM68 336h1v1h-1zM548 336h1v1h-1zM68 337h1v1h-1zM548 337h1v1h-1zM68 338h1v1h-1zM548 338h1v1h-1zM68 339h1v1h-1zM548 339h1v1h-1zM68 340h1v1h-1zM548 340h1v1h-1zM68 341h1v1h-1zM548 341h1v1h-1zM68 342h1v1h-1zM548 342h1v1h-1zM68 343h1v1h-1zM548 343h1v1h-1zM68 344h1v1h-1zM548 344h1v1h-1zM68 345h1v1h-1zM548 345h1v1h-1zM68 346h1v1h-1zM548 346h1v1h-1zM68 347h1v1h-1zM548 347h1v1h-1zM68 348h1v1h-1zM548 348h1v1h-1zM68 349h1v1h-1zM548 349h1v1h-1zM68 350h1v1h-1zM548 350h1v1h-1zM68 351h1v1h-1zM548 351h1v1h-1zM68 352h1v1h-1zM548 352h5v1h-5zM68 353h1v1h-1zM548 353h1v1h-1zM68 354h1v1h-1zM548 354h1v1h-1zM68 355h1v1h-1zM548 355h1v1h-1zM68 356h1v1h-1zM548 356h1v1h-1zM68 357h1v1h-1zM548 357h1v1h-1zM68 358h1v1h-1zM548 358h1v1h-1zM68 359h1v1h-1zM548 359h1v1h-1zM68 360h1v1h-1zM548 360h1v1h-1zM68 361h1v1h-1zM548 361h1v1h-1zM68 362h1v1h-1zM548 362h1v1h-1zM68 363h1v1h-1zM548 363h1v1h-1zM68 364h1v1h-1zM548 364h1v1h-1zM68 365h1v1h-1zM548 365h1v1h-1zM68 366h1v1h-1zM548 366h1v1h-1zM68 367h1v1h-1zM548 367h1v1h-1zM68 368h1v1h-1zM548 368h1v1h-1zM68 369h1v1h-1zM548 369h1v1h-1zM68 370h1v1h-1zM548 370h1v1h-1zM68 371h1v1h-1zM548 371h1v1h-1zM68 372h1v1h-1zM548 372h1v1h-1zM68 373h1v1h-1zM548 373h1v1h-1zM68 374h1v1h-1zM548 374h1v1h-1zM68 375h1v1h-1zM548 375h1v1h-1zM68 376h1v1h-1zM548 376h1v1h-1zM64 377h5v1h-5zM548 377h1v1h-1zM68 378h1v1h-1zM548 378h1v1h-1zM68 379h1v1h-1zM548 379h1v1h-1zM68 380h1v1h-1zM548 380h1v1h-1zM68 381h1v1h-1zM548 381h1v1h-1zM68 382h1v1h-1zM548 382h1v1h-1zM68 383h1v1h-1zM548 383h1v1h-1zM68 384h1v1h-1zM548 384h1v1h-1zM68 385h1v1h-1zM548 385h1v1h-1zM68 386h1v1h-1zM548 386h1v1h-1zM68 387h1v1h-1zM548 387h1v1h-1zM68 388h1v1h-1zM548 388h1v1h-1zM68 389h1v1h-1zM548 389h1v1h-1zM68 390h1v1h-1zM548 390h1v1h-1zM68 391h1v1h-1zM548 391h1v1h-1zM68 392h1v1h-1zM548 392h1v1h-1zM68 393h1v1h-1zM548 393h1v1h-1zM68 394h1v1h-1zM548 394h1v1h-1zM68 395h1v1h-1zM548 395h1v1h-1zM68 396h1v1h-1zM548 396h1v1h-1zM68 397h1v1h-1zM548 397h1v1h-1zM68 398h1v1h-1zM548 398h1v1h-1zM68 399h1v1h-1zM548 399h1v1h-1zM68 400h1v1h-1zM548 400h1v1h-1zM68 401h1v1h-1zM548 401h1v1h-1zM68 402h1v1h-1zM548 402h1v1h-1zM68 403h1v1h-1zM548 403h1v1h-1zM68 404h1v1h-1zM548 404h1v1h-1zM68 405h1v1h-1zM548 405h1v1h-1zM68 406h1v1h-1zM548 406h1v1h-1zM68 407h1v1h-1zM548 407h1v1h-1zM68 408h1v1h-1zM548 408h1v1h-1zM68 409h1v1h-1zM548 409h1v1h-1zM68 410h1v1h-1zM548 410h1v1h-1zM68 411h1v1h-1zM548 411h1v1h-1zM68 412h1v1h-1zM548 412h1v1h-1zM68 413h1v1h-1zM548 413h1v1h-1zM68 414h1v1h-1zM548 414h1v1h-1zM68 415h1v1h-1zM548 415h1v1h-1zM68 416h1v1h-1zM548 416h1v1h-1zM68 417h1v1h-1zM548 417h1v1h-1zM68 418h1v1h-1zM548 418h1v1h-1zM64 419h5v1h-5zM548 419h1v1h-1zM68 420h1v1h-1zM548 420h1v1h-1zM68 421h1v1h-1zM548 421h1v1h-1zM68 422h1v1h-1zM548 422h1v1h-1zM68 423h1v1h-1zM548 423h1v1h-1zM68 424h1v1h-1zM548 424h1v1h-1zM68 425h1v1h-1zM548 425h1v1h-1zM68 426h1v1h-1zM548 426h1v1h-1zM68 427h485v1h-485zM96 428h1v1h-1zM153 428h1v1h-1zM209 428h1v1h-1zM266 428h1v1h-1zM322 428h1v1h-1zM379 428h1v1h-1zM435 428h1v1h-1zM492 428h1v1h-1zM548 428h1v1h-1zM96 429h1v1h-1zM153 429h1v1h-1zM209 429h1v1h-1zM266 429h1v1h-1zM322 429h1v1h-1zM379 429h1v1h-1zM435 429h1v1h-1zM492 429h1v1h-1zM548 429h1v1h-1zM96 430h1v1h-1zM153 430h1v1h-1zM209 430h1v1h-1zM266 430h1v1h-1zM322 430h1v1h-1zM379 430h1v1h-1zM435 430h1v1h-1zM492 430h1v1h-1zM548 430h1v1h-1zM96 431h1v1h-1zM153 431h1v1h-1zM209 431h1v1h-1zM266 431h1v1h-1zM322 431h1v1h-1zM379 431h1v1h-1zM435 431h1v1h-1zM492 431h1v1h-1zM548 431h1v1h-1z"/>
</svg>
</body></html>
